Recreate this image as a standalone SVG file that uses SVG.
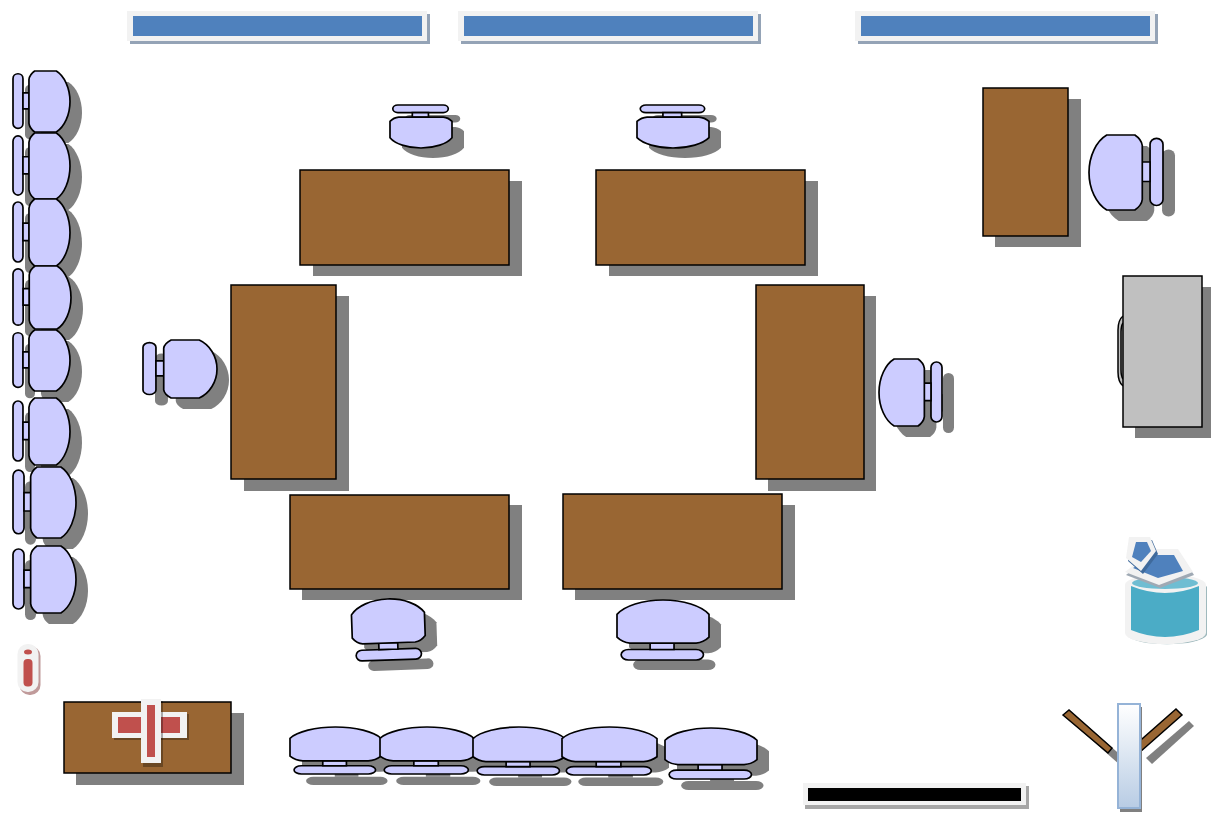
<svg xmlns="http://www.w3.org/2000/svg" xmlns:xlink="http://www.w3.org/1999/xlink" width="1211" height="814" viewBox="0 0 1211 814">
<style>
.t{fill:#996633;stroke:#000;stroke-width:1.5}
.s{fill:#808080}
.c *{fill:#ccccff;stroke:#000;stroke-width:1.7;vector-effect:non-scaling-stroke}
.w{fill:#f2f2f2}
.b{fill:#4f81bd}
.r{fill:#c0504d}
</style>
<defs>
<linearGradient id="door" x1="0" y1="0" x2="0" y2="1"><stop offset="0" stop-color="#ffffff"/><stop offset="1" stop-color="#b8cce4"/></linearGradient>
<g id="chairS" class="s">
<rect x="0" y="4.500" width="17.500" height="89.500" rx="8.700" ry="8"/>
<rect x="17.500" y="36" width="11" height="26"/>
<path d="M28,14Q29,6 38,0L76,0C90,8 100,28 100,50C100,72 90,92 76,100L38,100Q29,94 28,86Z"/>
</g>
<g id="chairF" class="c">
<rect x="0" y="4.500" width="17.500" height="89.500" rx="8.700" ry="8"/>
<rect x="17.500" y="36" width="11" height="26"/>
<path d="M28,14Q29,6 38,0L76,0C90,8 100,28 100,50C100,72 90,92 76,100L38,100Q29,94 28,86Z"/>
</g>
</defs>

<g id="window-1"><rect x="130" y="14" width="300" height="30" fill="#94a3b6"/><rect class="w" x="127" y="11" width="300" height="30"/><rect class="b" x="133" y="16" width="289" height="20"/></g>
<g id="window-2"><rect x="461" y="14" width="300" height="30" fill="#94a3b6"/><rect class="w" x="458" y="11" width="300" height="30"/><rect class="b" x="464" y="16" width="289" height="20"/></g>
<g id="window-3"><rect x="858" y="14" width="300" height="30" fill="#94a3b6"/><rect class="w" x="855" y="11" width="300" height="30"/><rect class="b" x="861" y="16" width="289" height="20"/></g>

<g id="chair-l1"><use href="#chairS" transform="translate(25,82) scale(.57,.61)"/><use href="#chairF" transform="translate(13,71) scale(.57,.61)"/></g>
<g id="chair-l2"><use href="#chairS" transform="translate(25,144) scale(.57,.66)"/><use href="#chairF" transform="translate(13,133) scale(.57,.66)"/></g>
<g id="chair-l3"><use href="#chairS" transform="translate(25,210) scale(.57,.67)"/><use href="#chairF" transform="translate(13,199) scale(.57,.67)"/></g>
<g id="chair-l4"><use href="#chairS" transform="translate(25,277) scale(.58,.63)"/><use href="#chairF" transform="translate(13,266) scale(.58,.63)"/></g>
<g id="chair-l5"><use href="#chairS" transform="translate(25,341) scale(.57,.61)"/><use href="#chairF" transform="translate(13,330) scale(.57,.61)"/></g>
<g id="chair-l6"><use href="#chairS" transform="translate(25,409) scale(.57,.67)"/><use href="#chairF" transform="translate(13,398) scale(.57,.67)"/></g>
<g id="chair-l7"><use href="#chairS" transform="translate(25,478) scale(.63,.71)"/><use href="#chairF" transform="translate(13,467) scale(.63,.71)"/></g>
<g id="chair-l8"><use href="#chairS" transform="translate(25,557) scale(.63,.67)"/><use href="#chairF" transform="translate(13,546) scale(.63,.67)"/></g>

<g id="table-top-1"><rect class="s" x="313" y="181" width="209" height="95"/><rect class="t" x="300" y="170" width="209" height="95"/></g>
<g id="table-top-2"><rect class="s" x="609" y="181" width="209" height="95"/><rect class="t" x="596" y="170" width="209" height="95"/></g>
<g id="table-left"><rect class="s" x="244" y="296" width="105" height="195"/><rect class="t" x="231" y="285" width="105" height="194"/></g>
<g id="table-right"><rect class="s" x="768" y="296" width="108" height="195"/><rect class="t" x="756" y="285" width="108" height="194"/></g>
<g id="table-bottom-1"><rect class="s" x="302" y="505" width="220" height="95"/><rect class="t" x="290" y="495" width="219" height="94"/></g>
<g id="table-bottom-2"><rect class="s" x="575" y="505" width="220" height="95"/><rect class="t" x="563" y="494" width="219" height="95"/></g>
<g id="table-corner"><rect class="s" x="995" y="99" width="86" height="148"/><rect class="t" x="983" y="88" width="85" height="148"/></g>
<g id="table-front"><rect class="s" x="76" y="713" width="168" height="72"/><rect class="t" x="64" y="702" width="167" height="71"/></g>

<g id="chair-top-1"><use href="#chairS" transform="matrix(0,.43,.62,0,402,115)"/><use href="#chairF" transform="matrix(0,.43,.62,0,390,105)"/></g>
<g id="chair-top-2"><use href="#chairS" transform="matrix(0,.43,.72,0,649,115)"/><use href="#chairF" transform="matrix(0,.43,.72,0,637,105)"/></g>
<g id="chair-west"><use href="#chairS" transform="translate(155,351) scale(.74,.58)"/><use href="#chairF" transform="translate(143,340) scale(.74,.58)"/></g>
<g id="chair-east"><use href="#chairS" transform="translate(954,370) scale(-.63,.67)"/><use href="#chairF" transform="translate(942,359) scale(-.63,.67)"/></g>
<g id="chair-corner"><use href="#chairS" transform="translate(1175,146) scale(-.74,.75)"/><use href="#chairF" transform="translate(1163,135) scale(-.74,.75)"/></g>
<g id="chair-bottom-1"><use href="#chairS" transform="translate(12,10) rotate(-2 388 630) matrix(0,-.61,.73,0,352,660)"/><use href="#chairF" transform="rotate(-2 388 630) matrix(0,-.61,.73,0,352,660)"/></g>
<g id="chair-bottom-2"><use href="#chairS" transform="matrix(0,-.6,.92,0,629,670)"/><use href="#chairF" transform="matrix(0,-.6,.92,0,617,660)"/></g>

<g id="chair-row-1"><use href="#chairS" transform="matrix(0,-.47,.91,0,302,785)"/><use href="#chairF" transform="matrix(0,-.47,.91,0,290,774)"/></g>
<g id="chair-row-2"><use href="#chairS" transform="matrix(0,-.47,.94,0,392,785)"/><use href="#chairF" transform="matrix(0,-.47,.94,0,380,774)"/></g>
<g id="chair-row-3"><use href="#chairS" transform="matrix(0,-.48,.92,0,485,786)"/><use href="#chairF" transform="matrix(0,-.48,.92,0,473,775)"/></g>
<g id="chair-row-4"><use href="#chairS" transform="matrix(0,-.48,.95,0,574,786)"/><use href="#chairF" transform="matrix(0,-.48,.95,0,562,775)"/></g>
<g id="chair-row-5"><use href="#chairS" transform="matrix(0,-.51,.92,0,677,790)"/><use href="#chairF" transform="matrix(0,-.51,.92,0,665,779)"/></g>

<g id="cabinet">
<rect class="s" x="1135" y="287" width="80" height="151"/>
<path d="M1123,316Q1118,320 1118,330L1118,372Q1118,382 1123,386" fill="#c0c0c0" stroke="#000" stroke-width="1.500"/>
<path d="M1123,323Q1121,326 1121,332L1121,370Q1121,376 1123,379" fill="none" stroke="#000" stroke-width="1.500"/>
<rect x="1123" y="276" width="79" height="151" fill="#c0c0c0" stroke="#000" stroke-width="1.500"/>
</g>

<g id="info-icon">
<rect x="19.500" y="646" width="21" height="49" rx="10" fill="#c09a9a"/>
<rect class="w" x="17.500" y="644" width="21" height="48" rx="10"/>
<ellipse class="r" cx="28" cy="652" rx="4" ry="2.500"/>
<rect class="r" x="23.500" y="659" width="9" height="27.500" rx="4"/>
</g>

<g id="cross-icon">
<rect x="114" y="714" width="75" height="26" fill="#000" opacity=".3"/>
<rect class="w" x="112" y="712" width="75" height="26"/>
<rect class="r" x="118" y="717" width="62" height="16"/>
<rect x="143" y="701" width="20" height="66" fill="#000" opacity=".3"/>
<rect class="w" x="141" y="699" width="20" height="64"/>
<rect class="r" x="147" y="705" width="8" height="52"/>
</g>

<g id="bucket-icon">
<path d="M1127,587A40.500,11 0 0 1 1207,587L1207,635A40.500,11 0 0 1 1127,635Z" fill="#9fb9bd"/>
<path class="w" d="M1125,585A40.500,11 0 0 1 1206,585L1206,633A40.500,11 0 0 1 1125,633Z"/>
<ellipse cx="1165" cy="583" rx="33" ry="6" fill="#6fbdd2"/>
<path d="M1131,586Q1165,600 1199,586L1199,630Q1165,644 1131,630Z" fill="#4bacc6"/>
<polygon points="1126,575 1155,552 1179,552 1194,575 1160,588" fill="#9fa9b4"/>
<polygon class="w" points="1125,572 1154,549 1178,549 1193,572 1159,585"/>
<polygon class="b" points="1154,555 1174,555 1183,571 1158,578 1133,568"/>
<polygon points="1131,540 1152,540 1158,554 1143,574 1128,561" fill="#3f6a9c"/>
<polygon class="w" points="1129,537 1150,537 1156,551 1141,571 1126,558"/>
<polygon class="b" points="1136,542 1147,542 1151,551 1141,562 1132,557"/>
</g>

<g id="door-icon">
<polygon class="s" points="1076,726 1082,721 1125,759 1120,765"/>
<polygon class="s" points="1189,721 1194,726 1152,764 1146,758"/>
<polygon class="t" points="1063,715 1069,710 1112,748 1108,753"/>
<polygon class="t" points="1176,709 1182,715 1140,752 1134,746"/>
<rect x="1120" y="707" width="22" height="105" fill="#808080"/>
<rect x="1118" y="704" width="22" height="104" fill="url(#door)" stroke="#95b3d7" stroke-width="2"/>
</g>

<g id="black-bar">
<rect x="805" y="786" width="224" height="23" fill="#a6a6a6"/>
<rect class="w" x="803" y="783" width="223" height="22"/>
<rect x="808" y="788" width="213" height="13" fill="#000"/>
</g>
</svg>
